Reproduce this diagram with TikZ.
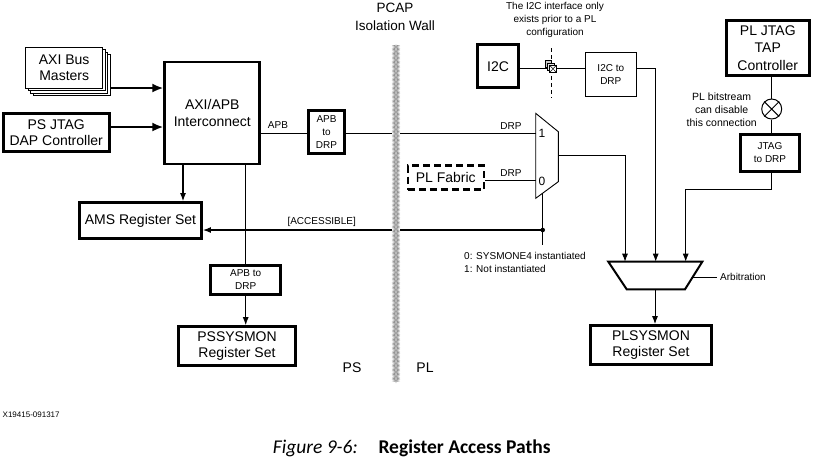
\documentclass[tikz,border=0pt]{standalone}
\usepackage{fontspec}
\setmainfont{Liberation Sans}
\newfontfamily\capfont{Carlito}
\usetikzlibrary{arrows.meta,decorations.pathmorphing}
\begin{document}
\begin{tikzpicture}[x=1pt,y=-1pt,
  font=\fontsize{14}{16.5}\selectfont,
  thickbox/.style={draw, line width=2.8pt, align=center, inner sep=0pt, fill=white},
  thinbox/.style={draw, line width=0.9pt, align=center, inner sep=0pt, fill=white},
  small/.style={font=\fontsize{10}{13}\selectfont},
  lbl/.style={inner sep=0pt, align=center},
  ln/.style={line width=0.9pt},
  arr/.style={ln, -{Latex[length=8pt,width=6pt]}},
  bigarr/.style={line width=2.2pt, -{Latex[length=11pt,width=9pt]}},
  wallzig/.style={draw=gray!85, line width=0.45pt, decorate, decoration={zigzag, segment length=2.6pt, amplitude=3pt}}
]
\useasboundingbox (0,0) rectangle (813,459);

% ---------- PS side boxes ----------
\node[thinbox, minimum width=77pt, minimum height=41pt] (axi3) at (71.7,75) {};
\node[thinbox, minimum width=77pt, minimum height=41pt] (axi2) at (69.2,72.5) {};
\node[thinbox, minimum width=77pt, minimum height=41pt] (axi1) at (66.7,70) {};
\node[thinbox, minimum width=77pt, minimum height=41pt] (axi) at (64.2,67.5) {AXI Bus\\Masters};

\node[thickbox, minimum width=95pt, minimum height=102pt] (ic) at (212.3,113) {AXI/APB\\Interconnect};
\node[thickbox, minimum width=106pt, minimum height=38pt] (psj) at (56.2,132.5) {PS JTAG\\DAP Controller};
\node[thickbox, small, minimum width=36pt, minimum height=43pt] (ad1) at (326.5,132) {APB\\to\\DRP};
\node[thickbox, minimum width=122pt, minimum height=36pt] (ams) at (140.5,220.5) {AMS Register Set};
\node[thickbox, small, minimum width=70pt, minimum height=29pt] (ad2) at (245.7,280) {APB to\\DRP};
\node[thickbox, minimum width=117pt, minimum height=39pt] (pss) at (237,346) {PSSYSMON\\Register Set};

% ---------- PL side boxes ----------
\node[thickbox, minimum width=41pt, minimum height=43pt] (i2c) at (498,66.3) {I2C};
\node[thinbox, small, minimum width=51pt, minimum height=44pt] (i2cdrp) at (610.8,74.5) {I2C to\\DRP};
\node[thickbox, font=\fontsize{14}{17.5}\selectfont, minimum width=83pt, minimum height=55pt] (plj) at (767.8,47.8) {PL JTAG\\TAP\\Controller};
\node[thickbox, small, minimum width=59pt, minimum height=37pt] (jd) at (770,152.7) {JTAG\\to DRP};
\node[draw, line width=2.6pt, dash pattern=on 7pt off 4pt, align=center, inner sep=0pt, minimum width=76pt, minimum height=24pt] (plf) at (445.8,177.7) {PL Fabric};
\node[thickbox, minimum width=121pt, minimum height=39pt] (plsys) at (651,345) {PLSYSMON\\Register Set};
\node[draw, circle, line width=1pt, minimum size=20pt, inner sep=0pt] (cx) at (771.7,109) {};
\draw[line width=1pt] (cx.north west) -- (cx.south east) (cx.north east) -- (cx.south west);

% ---------- mux and arbiter ----------
\draw[ln, fill=white] (535.7,113.3) -- (558.3,131.7) -- (558.3,181.7) -- (535.7,198.3) -- cycle;
\coordinate (m1) at (535.7,133.3);
\coordinate (m0) at (535.7,180);
\coordinate (mout) at (558.3,155);
\coordinate (mbot) at (542.7,193.2);
\coordinate (mend) at (542.7,245);
\coordinate (dot) at (542.7,230);
\node[lbl, font=\fontsize{12}{13}\selectfont] (one) at (541.9,133) {1};
\node[lbl, font=\fontsize{12}{13}\selectfont] (zero) at (541.9,181.5) {0};

\draw[line width=2pt, fill=white] (608.3,261.7) -- (702.3,261.7) -- (685,289.3) -- (626.7,289.3) -- cycle;
\coordinate (t1) at (625,261.7);
\coordinate (t2) at (655.7,261.7);
\coordinate (t3) at (685.7,261.7);
\coordinate (tb) at (655,289.3);
\coordinate (arbA) at (693,277);
\coordinate (arbB) at (716.7,277);

% ---------- helper coordinates ----------
\coordinate (yaxi) at (0,88);
\coordinate (ypsj) at (0,127);
\coordinate (yapb) at (0,133.3);
\coordinate (yi2c) at (0,68.3);
\coordinate (xams) at (183,0);
\coordinate (xps) at (245.7,0);
\coordinate (jbend) at (771.7,189.3);
\coordinate (dashA) at (551,48);
\coordinate (dashB) at (551,98);

% ---------- connectors ----------
\draw[bigarr] (yaxi -| axi3.east) -- (yaxi -| ic.west);
\draw[bigarr] (ypsj -| psj.east) -- (ypsj -| ic.west);
\draw[ln] (yapb -| ic.east) -- (yapb -| ad1.west);
\draw[ln] (yapb -| ad1.east) -- (m1);
\draw[arr, line width=1.1pt] (xams |- ic.south) -- (xams |- ams.north);
\draw[ln] (xps |- ic.south) -- (xps |- ad2.north);
\draw[arr] (xps |- ad2.south) -- (xps |- pss.north);
\draw[ln] (mbot) -- (mend);
\draw[arr, line width=1.2pt] (dot) -- (dot -| ams.east);
\fill (dot) circle (2.3pt);
\draw[ln] (plf.east |- m0) -- (m0);
\draw[arr] (mout) -| (t1);
\draw[ln] (yi2c -| i2c.east) -- (yi2c -| i2cdrp.west);
\draw[arr] (yi2c -| i2cdrp.east) -| (t2);
\draw[ln] (cx.north |- plj.south) -- (cx.north);
\draw[ln] (cx.south) -- (cx.south |- jd.north);
\draw[arr] (jbend |- jd.south) -- (jbend) -| (t3);
\draw[arr] (tb) -- (tb |- plsys.north);
\draw[ln] (arbA) -- (arbB);
\draw[ln, dash pattern=on 4pt off 3pt] (dashA) -- (dashB);

% I2C isolation icon
\draw[line width=0.6pt, fill=gray!40] (545,60.7) rectangle (551.7,67.3);
\draw[line width=0.6pt, fill=gray!20] (547.2,62.8) rectangle (554,69.8);
\draw[line width=0.6pt, fill=white] (549.3,65) rectangle (556.7,72.7);
\draw[line width=0.5pt] (549.3,65) -- (556.7,72.7) (549.3,72.7) -- (556.7,65);

% ---------- isolation wall ----------
\fill[white] (392.3,45) rectangle (399.7,383);
\draw[wallzig] (396,45) -- (396,383);
\draw[wallzig, decoration={mirror}] (396,45) -- (396,383);

% ---------- labels ----------
\node[lbl, font=\fontsize{13.5}{17.5}\selectfont] (pcap) at (395,17) {PCAP\\Isolation Wall};
\node[lbl] (ps) at (352,368) {PS};
\node[lbl] (pl) at (425,368) {PL};
\node[lbl, small] (apb) at (278,125.5) {APB};
\node[lbl, small] (drp1) at (511,125.7) {DRP};
\node[lbl, small] (drp0) at (511,172.7) {DRP};
\node[lbl, small] (acc) at (321.7,222) {[ACCESSIBLE]};
\node[lbl, small, align=left, anchor=west] (sysm) at (464,262.3) {0: SYSMONE4 instantiated\\1: Not instantiated};
\node[lbl, small] (i2cnote) at (555,19.5) {The I2C interface only\\exists prior to a PL\\configuration};
\node[lbl, font=\fontsize{10.5}{13}\selectfont] (bitnote) at (721.7,109.5) {PL bitstream\\can disable\\this connection};
\node[lbl, small, anchor=west] (arbl) at (720,277) {Arbitration};
\node[lbl, font=\fontsize{8}{9}\selectfont, anchor=west] (xid) at (2.5,415) {X19415-091317};
\node[inner sep=0pt, anchor=base west, font=\capfont\fontsize{19.5}{22}\selectfont\itshape] (capa) at (272.7,453.3) {Figure 9-6:};
\node[inner sep=0pt, anchor=base west, font=\capfont\fontsize{19.5}{22}\selectfont\bfseries] (capb) at (378.3,453.3) {Register Access Paths};
\end{tikzpicture}
\end{document}
